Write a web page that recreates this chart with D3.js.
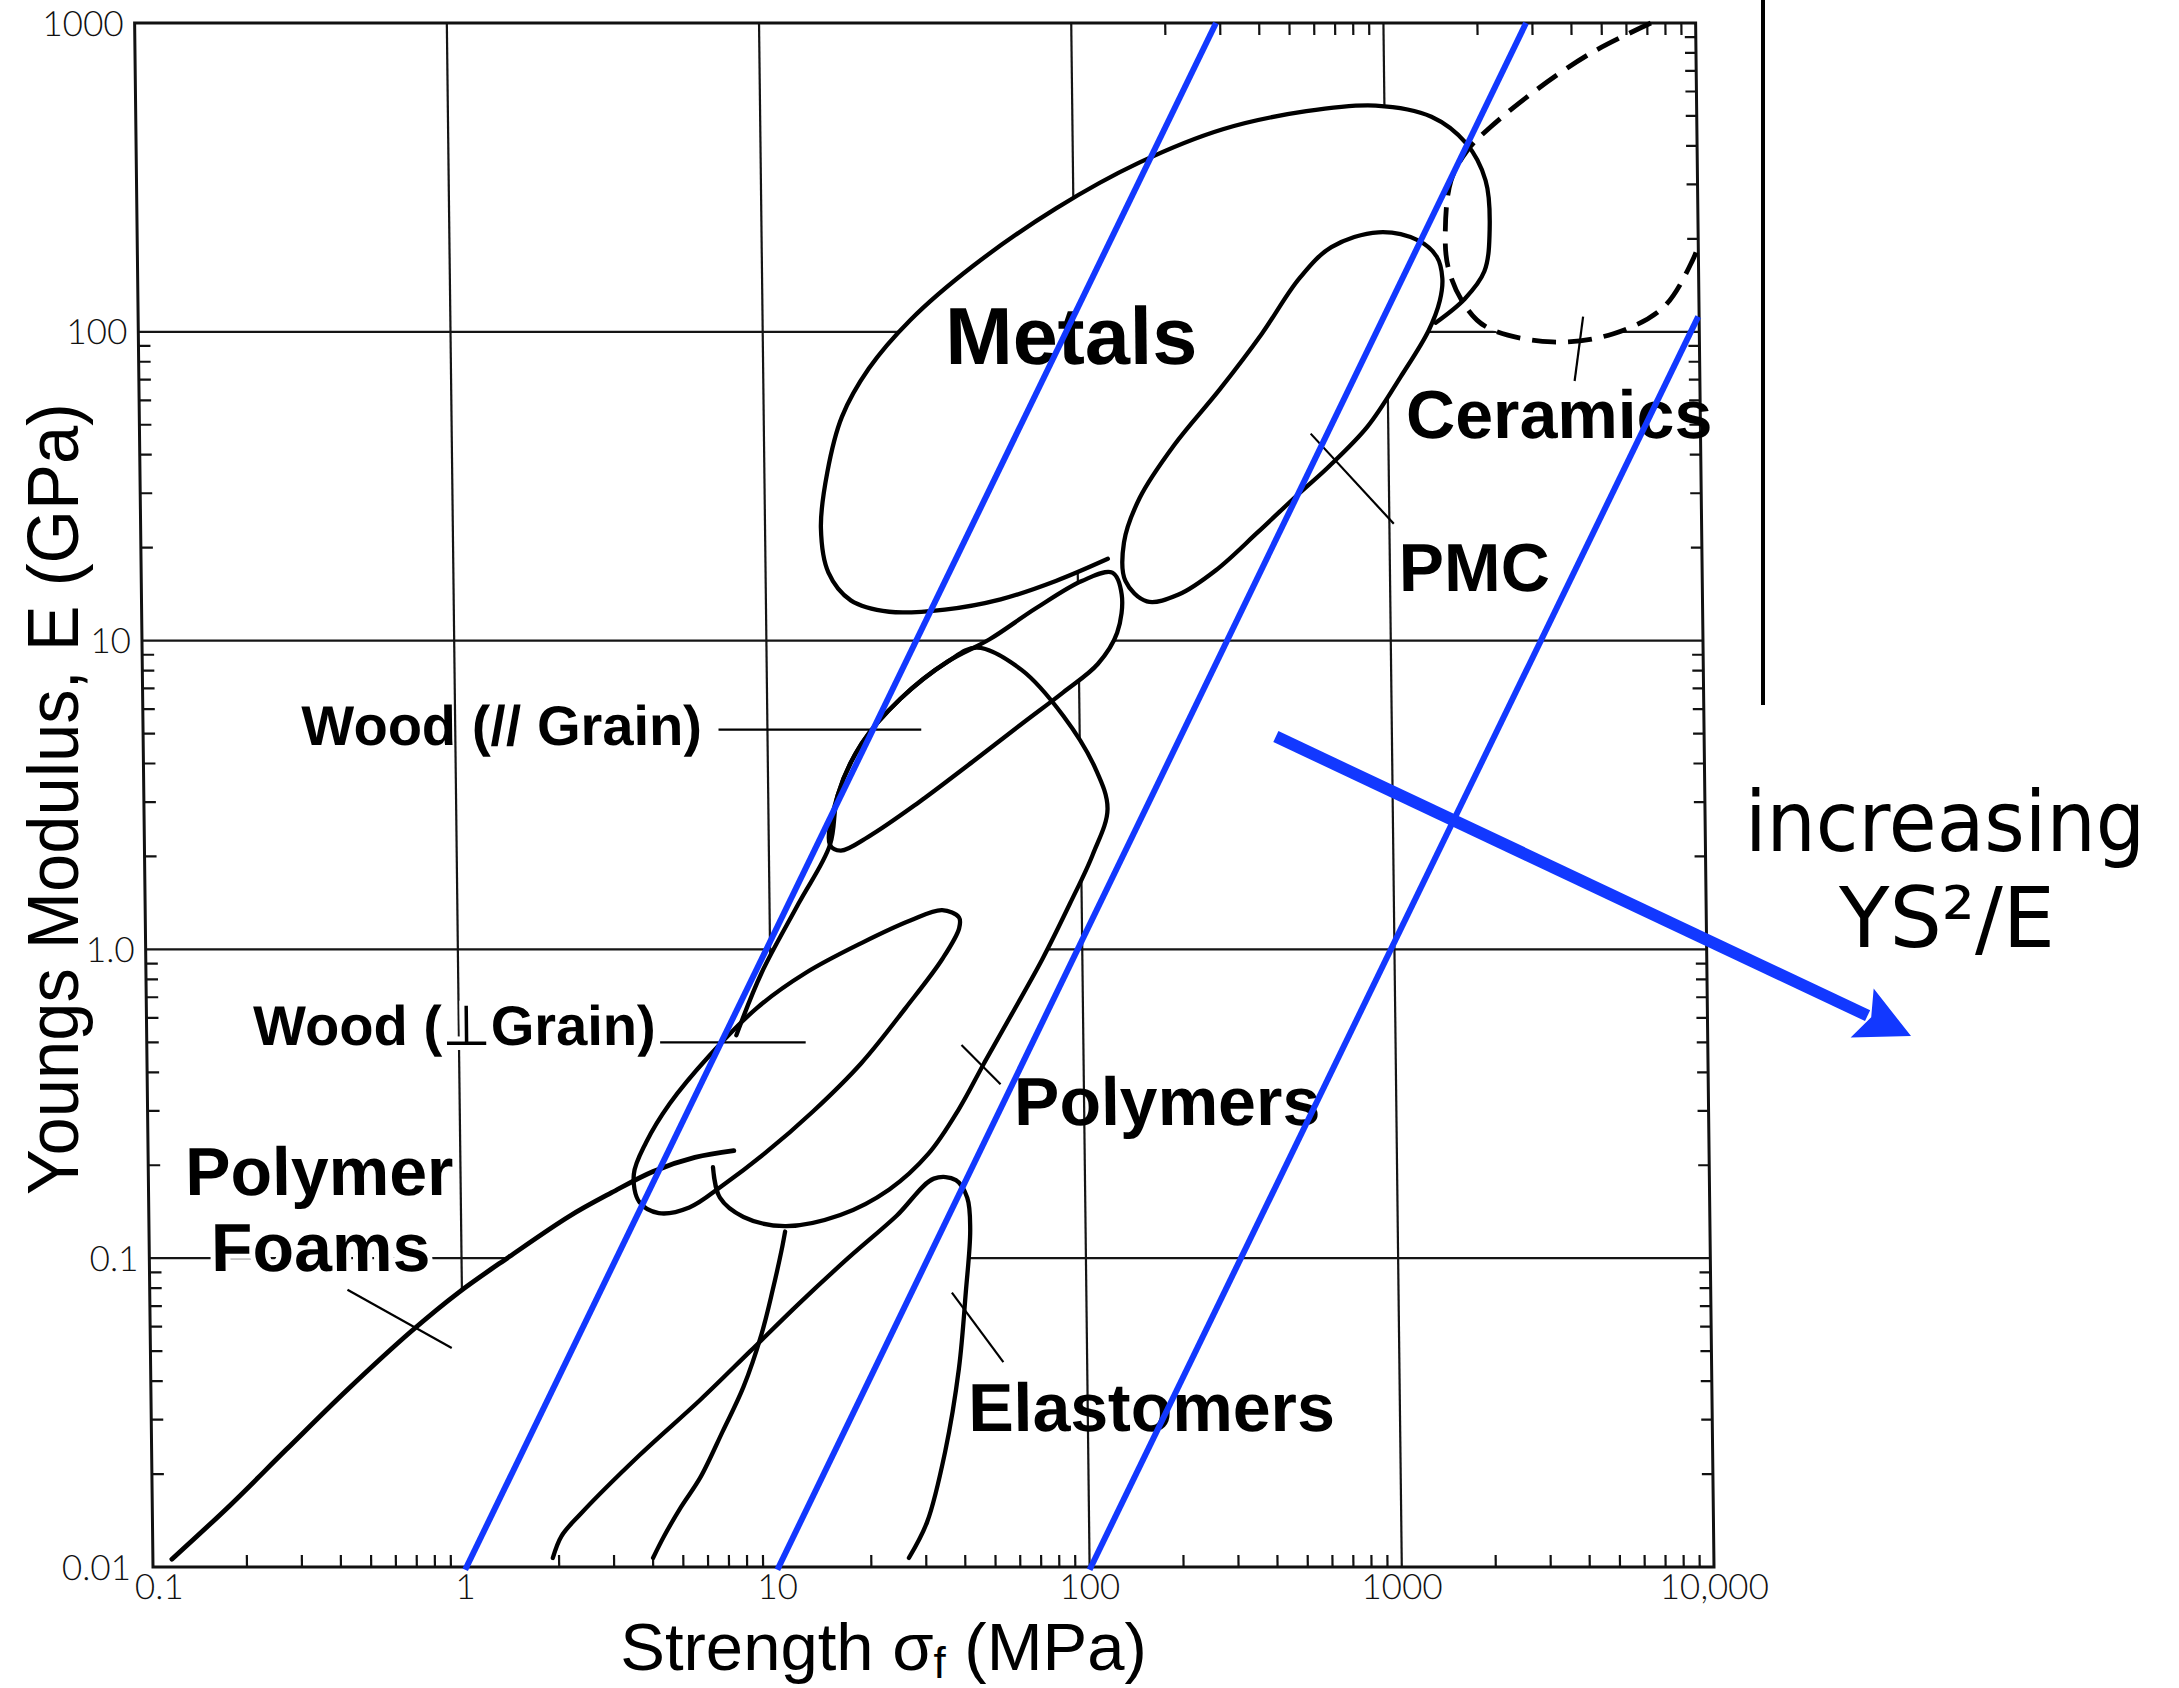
<!DOCTYPE html>
<html>
<head>
<meta charset="utf-8">
<script src="https://cdn.jsdelivr.net/npm/d3@7"></script>
<style>
  html, body { margin: 0; padding: 0; background: #fff; }
  svg { display: block; }
</style>
</head>
<body>
<svg id="chart" width="2179" height="1688"></svg>
<script>
// ---- axis ticks ----
const strengthTicks = [0.1, 1, 10, 100, 1000, 10000];
const strengthTickLabels = ["0.1", "1", "10", "100", "1000", "10,000"];
const modulusTicks = [0.01, 0.1, 1, 10, 100, 1000];
const modulusTickLabels = ["0.01", "0.1", "1.0", "10", "100", "1000"];

// ---- material envelopes, [strength σf (MPa), modulus E (GPa)] ----
const metals = [[125,18.4],[85,15.6],[56.5,13.6],[37.4,12.6],[24.8,12.4],[18.7,13.5],[15.9,16.6],[15.1,23.1],[15.9,35],[17.8,53],[21.8,76],[29.7,109],[47.3,163],[88,251],[163,353],[303,453],[562,518],[938,540],[1413,497],[1820,408],[2095,309],[2150,215],[2060,157],[1780,128],[1432,107]];
const pmc = [[1262,198],[1452,175],[1510,149],[1479,126],[1359,101],[1102,71.6],[858,49.3],[641,36.5],[516,30],[378,22.4],[277,16.9],[210,14.1],[166,13.4],[142,15.6],[141,20.8],[159,29],[206,43],[290,65.2],[397,98.6],[526,149],[668,188],[946,210]];
const ceramics = [[7190,1000],[4620,800],[3055,605],[2193,462],[1837,387],[1622,308],[1549,208],[1577,162],[1742,126],[2070,104],[3381,92.7],[5310,98.6],[7690,120],[9590,171],[10000,190]];
const woodParallel = [[15.7,2.18],[16.7,3.16],[20.0,4.64],[26.7,6.47],[38,8.55],[51.9,10.1],[73,12.7],[103,15.6],[129,16.6],[138,14.1],[133,10.6],[115,8.4],[88.9,6.8],[65.2,5.37],[45.4,4.06],[30,2.97],[20.9,2.32],[17,2.09]];
const polymers = [[7.74,0.527],[9.38,0.84],[12.4,1.41],[15.7,2.18],[16.7,3.16],[20.0,4.64],[26.7,6.47],[38,8.55],[47.2,9.49],[65.5,8.04],[88.7,5.71],[112,3.85],[122,2.85],[109,2.03],[91.8,1.41],[74.5,0.931],[59,0.615],[48,0.428],[39.7,0.304],[31.6,0.218],[23.6,0.167],[16.4,0.138],[10.9,0.127],[8.03,0.136],[6.76,0.157],[6.44,0.197]];
const woodPerpendicular = [[40.4,1.27],[35.7,1.34],[28.2,1.24],[19.7,1.05],[13,0.84],[9.06,0.648],[6.31,0.451],[4.71,0.317],[3.94,0.237],[3.59,0.187],[3.73,0.152],[4.3,0.14],[5.39,0.146],[6.9,0.172],[9.42,0.218],[13.5,0.298],[19.4,0.428],[27.1,0.648],[35.6,0.931],[40.4,1.17]];
const foamUpperEdge = [[0.115,0.0106],[0.177,0.0158],[0.27,0.024],[0.426,0.0375],[0.686,0.058],[0.975,0.0774],[1.42,0.101],[2.23,0.137],[3.04,0.163],[4.14,0.191],[5.64,0.212],[7.52,0.223]];
const foamLowerEdge = [[4.0,0.0107],[4.35,0.0126],[4.93,0.0156],[5.71,0.0195],[6.76,0.0275],[7.91,0.0383],[9.08,0.0568],[9.9,0.079],[10.6,0.106],[10.9,0.122]];
const elastomers = [[1.91,0.0107],[2.04,0.0126],[2.36,0.0149],[3.65,0.023],[5.75,0.0348],[8.36,0.0501],[12,0.0713],[17.3,0.1],[24.8,0.137],[32.8,0.181],[38.6,0.179],[41.9,0.157],[42.7,0.124],[41.1,0.0774],[38.8,0.0438],[34.8,0.0236],[30.3,0.014],[26.4,0.0107]];

// label leader lines
const leaders = [
  [[6.97,5.15],[31.1,5.15]],
  [[4.41,0.5],[12.9,0.5]],
  [[0.43,0.079],[0.923,0.0512]],
  [[40.7,0.49],[54.1,0.366]],
  [[37.1,0.0774],[53.9,0.0461]],
  [[564,46.8],[1033,23.9]],
  [[4250,112],[3970,69.3]]
];

// region names and where they sit
const regionNames = ["Metals","Ceramics","PMC","Polymers","Elastomers","Polymer","Foams","Wood (// Grain)","Wood (\u22A5Grain)"];
const regionAnchors = [[97.3,78.5],[3530,45.4],[1862,14.5],[184.5,0.269],[160,0.0275],[0.353,0.16],[0.354,0.0906],[1.41,4.59],[0.969,0.49]];

// lines of constant σf²/E and the direction arrow
const guideLines = [
  [[1,0.0098],[254,1000]],
  [[10,0.0098],[2500,1000]],
  [[100,0.0098],[8900,112]]
];
const trendArrow = [[395,4.89],[42760,0.524]];

// ---------------------------------------------------------------
const W = 2179, H = 1688;
const svg = d3.select("#chart");
svg.append("rect").attr("width", W).attr("height", H).attr("fill", "#fff");

const x = d3.scaleLog().domain([0.1, 10000]).range([153, 1714]);
const y = d3.scaleLog().domain([0.01, 1000]).range([1567, 23]);

// the printed chart is slightly sheared; its top edge sits left of its bottom edge
const shear = 0.0119;
const scan = svg.append("g")
  .attr("transform", `translate(${-shear * y(0.01)},0) skewX(${Math.atan(shear) * 180 / Math.PI})`);

const px = d => x(d[0]), py = d => y(d[1]);
const openCurve = d3.line().x(px).y(py).curve(d3.curveCatmullRom.alpha(0.5));
const closedCurve = d3.line().x(px).y(py).curve(d3.curveCatmullRomClosed.alpha(0.5));
const straight = d3.line().x(px).y(py);

// grid
const grid = scan.append("g").attr("stroke", "#151515").attr("stroke-width", 2.2);
grid.selectAll("line.v").data(strengthTicks.slice(1, -1)).join("line").attr("class", "v")
  .attr("x1", d => x(d)).attr("x2", d => x(d)).attr("y1", y(0.01)).attr("y2", y(1000));
grid.selectAll("line.h").data(modulusTicks.slice(1, -1)).join("line").attr("class", "h")
  .attr("x1", x(0.1)).attr("x2", x(10000)).attr("y1", d => y(d)).attr("y2", d => y(d));

// white interiors of the envelopes hide the grid
const fills = scan.append("g").attr("fill", "#fff").attr("stroke", "none");
const firstFoam = foamUpperEdge[0], lastElast = elastomers[elastomers.length - 1];
fills.append("path").attr("d",
  straight([...foamUpperEdge, ...elastomers.slice(9)]) +
  `L${x(lastElast[0])},${y(0.01)}L${x(firstFoam[0])},${y(0.01)}Z`);
fills.append("path").attr("d", closedCurve(polymers));
fills.append("path").attr("d", closedCurve(woodParallel));
fills.append("path").attr("d", closedCurve(woodPerpendicular));
fills.append("path").attr("d", openCurve(metals) + "Z");
fills.append("path").attr("d", closedCurve(pmc));
fills.append("path").attr("d", openCurve(ceramics) + `L${x(10000)},${y(1000)}Z`);

// frame
scan.append("rect")
  .attr("x", x(0.1)).attr("y", y(1000))
  .attr("width", x(10000) - x(0.1)).attr("height", y(0.01) - y(1000))
  .attr("fill", "none").attr("stroke", "#111").attr("stroke-width", 3);

// minor ticks, pointing into the frame
const minor = decades => decades.flatMap(d => d3.range(2, 10).map(m => d * m));
const ticks = scan.append("g").attr("stroke", "#111").attr("stroke-width", 2.2);
ticks.selectAll("line.l").data(minor([0.01, 0.1, 1, 10])).join("line").attr("class", "l")
  .attr("x1", x(0.1)).attr("x2", x(0.1) + 12).attr("y1", d => y(d)).attr("y2", d => y(d));
ticks.selectAll("line.r").data(minor([0.01, 0.1, 1, 10, 100])).join("line").attr("class", "r")
  .attr("x1", x(10000) - 11).attr("x2", x(10000)).attr("y1", d => y(d)).attr("y2", d => y(d));
ticks.selectAll("line.b").data(minor([0.1, 1, 10, 100, 1000])).join("line").attr("class", "b")
  .attr("x1", d => x(d)).attr("x2", d => x(d)).attr("y1", y(0.01)).attr("y2", y(0.01) - 12);
ticks.selectAll("line.t").data(minor([100, 1000])).join("line").attr("class", "t")
  .attr("x1", d => x(d)).attr("x2", d => x(d)).attr("y1", y(1000)).attr("y2", y(1000) + 12);

// envelope outlines
const outline = scan.append("g").attr("fill", "none").attr("stroke", "#000")
  .attr("stroke-width", 4.3).attr("stroke-linecap", "round").attr("stroke-linejoin", "round");
outline.append("path").attr("d", openCurve(metals));
outline.append("path").attr("d", closedCurve(pmc));
outline.append("path").attr("d", openCurve(ceramics))
  .attr("stroke-width", 4.8).attr("stroke-dasharray", "24 12").attr("stroke-linecap", "butt");
outline.append("path").attr("d", openCurve(polymers));
outline.append("path").attr("d", closedCurve(woodParallel));
outline.append("path").attr("d", closedCurve(woodPerpendicular));
outline.append("path").attr("d", openCurve(foamUpperEdge)).attr("stroke-width", 4.8);
outline.append("path").attr("d", openCurve(foamLowerEdge));
outline.append("path").attr("d", openCurve(elastomers));

// leaders
scan.append("g").attr("stroke", "#000").attr("stroke-width", 2.2)
  .selectAll("line").data(leaders).join("line")
  .attr("x1", d => x(d[0][0])).attr("y1", d => y(d[0][1]))
  .attr("x2", d => x(d[1][0])).attr("y2", d => y(d[1][1]));

// region names
const haloed = new Set(["Polymer", "Foams", "Wood (\u22A5Grain)"]);
const sizeOf = t => t === "Metals" ? 81 : (t.startsWith("Wood") ? 56 : 68);
const names = scan.append("g")
  .attr("font-family", "'Liberation Sans', Arial, Helvetica, sans-serif")
  .attr("font-weight", "bold").attr("text-anchor", "middle").attr("fill", "#000");
regionNames.forEach((t, i) => {
  const el = names.append("text")
    .attr("x", x(regionAnchors[i][0])).attr("y", y(regionAnchors[i][1]))
    .attr("font-size", sizeOf(t));
  if (haloed.has(t)) el.attr("stroke", "#fff").attr("stroke-width", 10).attr("paint-order", "stroke");
  if (t.includes("\u22A5")) {
    el.append("tspan").text("Wood (");
    el.append("tspan").attr("font-weight", "normal").attr("font-family", "'DejaVu Sans', sans-serif").text("\u22A5");
    el.append("tspan").text("Grain)");
  } else {
    el.text(t);
  }
});

// tick labels (the corner pair is nudged apart so they do not collide)
const tickFont = "Lato, 'DejaVu Sans', sans-serif";
scan.append("g").attr("font-family", tickFont).attr("font-weight", 300).attr("font-size", 35)
  .attr("fill", "#111").attr("text-anchor", "end")
  .selectAll("text").data(modulusTicks).join("text")
  .attr("x", d => x(0.1) - (d === modulusTicks[0] ? 22 : 11)).attr("y", d => y(d)).attr("dy", "0.36em")
  .text((d, i) => modulusTickLabels[i]);
scan.append("g").attr("font-family", tickFont).attr("font-weight", 300).attr("font-size", 35)
  .attr("fill", "#111").attr("text-anchor", "middle")
  .selectAll("text").data(strengthTicks).join("text")
  .attr("x", d => x(d) + (d === strengthTicks[0] ? 6 : 0)).attr("y", y(0.01) + 32)
  .text((d, i) => strengthTickLabels[i]);

// axis titles
const xTitle = svg.append("text")
  .attr("x", (x(1) + x(1000)) / 2 - 50).attr("y", 1670)
  .attr("text-anchor", "middle").attr("font-size", 67)
  .attr("font-family", "'Liberation Sans', Arial, sans-serif").attr("fill", "#000");
xTitle.append("tspan").text("Strength \u03C3");
xTitle.append("tspan").attr("font-size", 44).attr("dy", 8).text("f");
xTitle.append("tspan").attr("dy", -8).text(" (MPa)");

svg.append("text")
  .attr("transform", `translate(78,${(y(0.01) + y(1000)) / 2 + 4}) rotate(-90)`)
  .attr("text-anchor", "middle").attr("font-size", 72)
  .attr("font-family", "'Liberation Sans', Arial, sans-serif")
  .attr("textLength", 792).attr("lengthAdjust", "spacingAndGlyphs")
  .attr("fill", "#000").text("Youngs Modulus, E (GPa)");

// border line at the right of the chart
svg.append("line").attr("x1", 1763).attr("x2", 1763).attr("y1", 0).attr("y2", 705)
  .attr("stroke", "#000").attr("stroke-width", 4);

// guide lines of constant σf²/E
const blue = "#1238ff";
svg.append("g").attr("stroke", blue).attr("stroke-width", 6)
  .selectAll("line").data(guideLines).join("line")
  .attr("x1", d => x(d[0][0])).attr("y1", d => y(d[0][1]))
  .attr("x2", d => x(d[1][0])).attr("y2", d => y(d[1][1]));

// arrow towards increasing σf²/E
{
  const p0 = [x(trendArrow[0][0]), y(trendArrow[0][1])];
  const p1 = [x(trendArrow[1][0]), y(trendArrow[1][1])];
  const len = Math.hypot(p1[0] - p0[0], p1[1] - p0[1]);
  const ux = (p1[0] - p0[0]) / len, uy = (p1[1] - p0[1]) / len;
  const headLen = 54, headHalf = 27;
  const bx = p1[0] - ux * headLen, by = p1[1] - uy * headLen;
  svg.append("line").attr("x1", p0[0]).attr("y1", p0[1])
    .attr("x2", bx + ux * 6).attr("y2", by + uy * 6)
    .attr("stroke", blue).attr("stroke-width", 12);
  svg.append("path")
    .attr("d", `M${p1[0]},${p1[1]}L${bx - uy * headHalf},${by + ux * headHalf}L${bx + ux * 10},${by + uy * 10}L${bx + uy * headHalf},${by - ux * headHalf}Z`)
    .attr("fill", blue);
}

// caption beside the arrow
const caption = svg.append("g").attr("font-family", "'DejaVu Sans', Verdana, sans-serif")
  .attr("font-size", 84).attr("fill", "#000").attr("text-anchor", "middle");
caption.append("text").attr("x", 1945).attr("y", 851)
  .attr("textLength", 400).attr("lengthAdjust", "spacingAndGlyphs").text("increasing");
caption.append("text").attr("x", 1947).attr("y", 947)
  .attr("textLength", 216).attr("lengthAdjust", "spacingAndGlyphs").text("YS\u00B2/E");
</script>
</body>
</html>
